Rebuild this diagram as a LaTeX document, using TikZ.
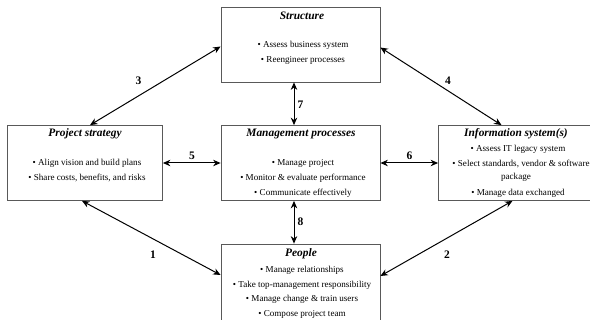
\documentclass[tikz,border=0pt]{standalone}
\usepackage{fontspec}
\setmainfont{Liberation Serif}
\usetikzlibrary{arrows.meta,calc}
\begin{document}
\begin{tikzpicture}[x=1pt,y=-1pt,
  box/.style={draw=black!65,line width=0.8pt,minimum width=159pt,minimum height=75pt,inner sep=0pt},
  ttl/.style={font=\fontsize{11.4}{13}\selectfont\bfseries\itshape},
  itm/.style={font=\fontsize{9.1}{11}\selectfont},
  num/.style={font=\fontsize{11.5}{12}\selectfont\bfseries},
  arr/.style={line width=1pt,{Stealth[length=7.5pt,width=6.5pt]}-{Stealth[length=7.5pt,width=6.5pt]}}]
\useasboundingbox (0,0) rectangle (590,320);
\clip (0,0) rectangle (590,320);
% boxes
\node[box] (S) at (300.5,44.5) {};
\node[box,minimum width=155pt] (P) at (85,163) {};
\node[box] (M) at (300.5,163) {};
\node[box,minimum width=156pt] (I) at (516.5,163) {};
\node[box,minimum height=86pt] (E) at (300.5,287) {};
% Structure
\node[ttl] (s0) at (302,15.7) {Structure};
\node[itm] (s1) at (303,45) {• Assess business system};
\node[itm] (s2) at (303,60) {• Reengineer processes};
% Project strategy
\node[ttl] (p0) at (85,134) {Project strategy};
\node[itm] (p1) at (87,163.7) {• Align vision and build plans};
\node[itm] (p2) at (87,178) {• Share costs, benefits, and risks};
% Management processes
\node[ttl] (m0) at (301,134) {Management processes};
\node[itm] (m1) at (303,163.7) {• Manage project};
\node[itm] (m2) at (303,178) {• Monitor \& evaluate performance};
\node[itm] (m3) at (303,193) {• Communicate effectively};
% Information systems
\node[ttl] (i0) at (516,134) {Information system(s)};
\node[itm] (i1) at (518,149) {• Assess IT legacy system};
\node[itm] (i2) at (521,164) {• Select standards, vendor \& software};
\node[itm] (i3) at (516,177) {package};
\node[itm] (i4) at (518,193) {• Manage data exchanged};
% People
\node[ttl] (e0) at (301,254) {People};
\node[itm] (e1) at (302,270) {• Manage relationships};
\node[itm] (e2) at (302,285) {• Take top-management responsibility};
\node[itm] (e3) at (302,299.5) {• Manage change \& train users};
\node[itm] (e4) at (302,314) {• Compose project team};
% connectors
\draw[arr] ($(S.west)+(0,2)$) -- ($(P.north)+(5,0)$);
\draw[arr] ($(S.east)+(0,3)$) -- ($(I.north)+(-15,0)$);
\draw[arr] ($(S.south)+(-6.5,0)$) -- ($(M.north)+(-6.5,0)$);
\draw[arr] (P.east) -- (M.west);
\draw[arr] (M.east) -- (I.west);
\draw[arr] ($(M.south)+(-6.5,0)$) -- ($(E.north)+(-6.5,0)$);
\draw[arr] ($(P.south)+(-3,0)$) -- ($(E.west)+(0,-12)$);
\draw[arr] ($(E.east)+(0,-11)$) -- ($(I.south)+(-4,0)$);
% labels
\node[num] (n3) at (138.5,81) {3};
\node[num] (n4) at (448,81) {4};
\node[num] (n7) at (300.5,105) {7};
\node[num] (n5) at (192,156) {5};
\node[num] (n6) at (409.5,156) {6};
\node[num] (n8) at (300.5,221.7) {8};
\node[num] (n1) at (153,255) {1};
\node[num] (n2) at (447,255) {2};
\end{tikzpicture}
\end{document}
